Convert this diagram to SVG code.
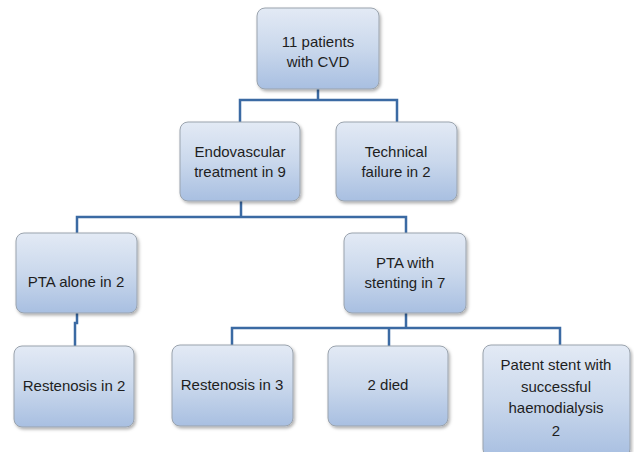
<svg xmlns="http://www.w3.org/2000/svg" width="634" height="452" viewBox="0 0 634 452">
<style>
.box{fill:url(#g);stroke:#9aa3ad;stroke-width:1;filter:url(#sh)}
.t{font-family:"Liberation Sans",Arial,sans-serif;font-size:15px;fill:#1e1e1e;text-anchor:middle}
.c{fill:none;stroke:#3b6aa3;stroke-width:2.5}
</style>
<defs>
<linearGradient id="g" x1="0" y1="0" x2="0" y2="1">
<stop offset="0" stop-color="#e3eaf5"/>
<stop offset="0.5" stop-color="#cad8ec"/>
<stop offset="1" stop-color="#a8bfe1"/>
</linearGradient>
<filter id="sh" x="-10%" y="-10%" width="130%" height="130%">
<feDropShadow dx="1.5" dy="2" stdDeviation="1.5" flood-color="#000" flood-opacity="0.3"/>
</filter>
</defs>
<rect width="634" height="452" fill="#fff"/>
<g id="connectors">
<path class="c" d="M318 89 V100 M240 122 V100 H397 V122"/>
<path class="c" d="M241 201 V217 M77 233 V217 H406 V233"/>
<path class="c" d="M77 313 V323 H75 V346"/>
<path class="c" d="M406 313 V328 M232 345 V328 H560 V345 M389 328 V346"/>
</g>
<g id="root"><rect class="box" x="257" y="8" width="122" height="81" rx="8"/><text class="t" x="318" y="47">11 patients</text><text class="t" x="318" y="67">with CVD</text></g>
<g id="endo"><rect class="box" x="180" y="122" width="120" height="79" rx="8"/><text class="t" x="240" y="157">Endovascular</text><text class="t" x="240" y="177">treatment in 9</text></g>
<g id="tech"><rect class="box" x="336" y="122" width="121" height="79" rx="8"/><text class="t" x="396" y="157">Technical</text><text class="t" x="396" y="177">failure in 2</text></g>
<g id="pta-alone"><rect class="box" x="16" y="233" width="121" height="80" rx="8"/><text class="t" x="76" y="287">PTA alone in 2</text></g>
<g id="pta-stent"><rect class="box" x="344" y="233" width="122" height="80" rx="8"/><text class="t" x="405" y="268">PTA with</text><text class="t" x="405" y="288">stenting in 7</text></g>
<g id="rest2"><rect class="box" x="14" y="346" width="120" height="81" rx="8"/><text class="t" x="74" y="391">Restenosis in 2</text></g>
<g id="rest3"><rect class="box" x="172" y="345" width="121" height="81" rx="8"/><text class="t" x="232" y="390">Restenosis in 3</text></g>
<g id="died"><rect class="box" x="328" y="346" width="120" height="80" rx="8"/><text class="t" x="388" y="390">2 died</text></g>
<g id="patent"><rect class="box" x="483" y="345" width="147" height="112" rx="8"/><text class="t" x="556" y="370">Patent stent with</text><text class="t" x="556" y="392">successful</text><text class="t" x="556" y="413">haemodialysis</text><text class="t" x="556" y="436">2</text></g>
</svg>
